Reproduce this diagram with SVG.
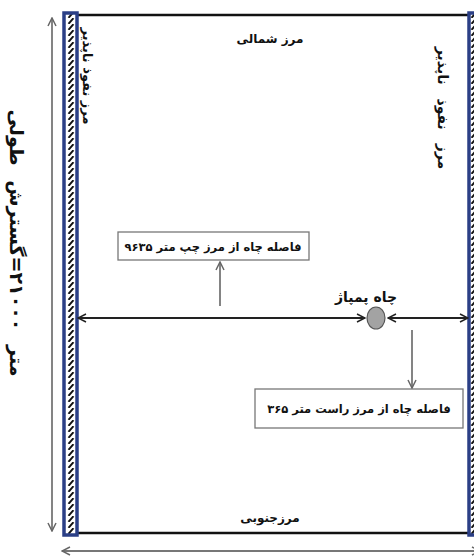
<svg xmlns="http://www.w3.org/2000/svg" width="474" height="559" viewBox="0 0 474 559">
<style>
.ar{font-family:"DejaVu Sans",sans-serif;font-weight:bold;fill:#111;direction:rtl}
.box{fill:#fff;stroke:#777;stroke-width:1.3}
.dim{stroke:#777;stroke-width:1.8;fill:none}
.blk{stroke:#222;stroke-width:2;fill:none}
.bar{stroke:#2b3f86;stroke-width:3.5}
</style>
<defs>
<pattern id="hatchL" x="64" y="0" width="14" height="6" patternUnits="userSpaceOnUse">
<rect width="14" height="6" fill="#fff"/>
<path d="M4.5 5.8 L9.5 0.2" stroke="#111" stroke-width="2"/>
</pattern>
<pattern id="hatchR" x="469" y="0" width="14" height="6" patternUnits="userSpaceOnUse">
<rect width="14" height="6" fill="#fff"/>
<path d="M2.5 5.8 L7.5 0.2" stroke="#111" stroke-width="2"/>
</pattern>
<marker id="ah" viewBox="0 0 10 10" refX="9" refY="5" markerWidth="10" markerHeight="10" orient="auto-start-reverse" markerUnits="userSpaceOnUse">
<path d="M1 1 L9 5 L1 9" fill="none" stroke="#666" stroke-width="1.5"/>
</marker>
<marker id="ahk" viewBox="0 0 10 10" refX="9" refY="5" markerWidth="10" markerHeight="10" orient="auto-start-reverse" markerUnits="userSpaceOnUse">
<path d="M1 1 L9 5 L1 9" fill="none" stroke="#222" stroke-width="1.5"/>
</marker>
</defs>
<rect width="474" height="559" fill="#fff"/>

<g id="boundary">
<line x1="76" y1="15" x2="468" y2="15" stroke="#111" stroke-width="2.5"/>
<line x1="76" y1="533" x2="468" y2="533" stroke="#111" stroke-width="2.5"/>
</g>
<g id="left-wall">
<rect class="bar" x="64" y="13" width="13" height="522" fill="url(#hatchL)"/>
<text class="ar" font-size="13" text-anchor="middle" transform="translate(83,76) rotate(90)">مرز نفوذ ناپذیر</text>
</g>
<g id="right-wall">
<rect class="bar" x="469" y="13" width="13" height="522" fill="url(#hatchR)"/>
<text class="ar" font-size="14" word-spacing="9" text-anchor="middle" transform="translate(438,108) rotate(90)">مرز نفوذ ناپذیر</text>
</g>
<g id="north">
<text class="ar" font-size="12" x="270" y="43" text-anchor="middle">مرز شمالی</text>
</g>
<g id="south">
<text class="ar" font-size="12" x="270" y="522" text-anchor="middle">مرزجنوبی</text>
</g>
<g id="length-label">
<text class="ar" font-size="19" word-spacing="8" text-anchor="middle" transform="translate(10,243) rotate(90)">متر ۲۱۰۰۰=گسترش طولی</text>
</g>
<g id="well">
<ellipse cx="376" cy="318" rx="9" ry="11" fill="#a3a3a3" stroke="#555" stroke-width="1.2"/>
<text class="ar" font-size="14" x="366" y="302" text-anchor="middle">چاه پمپاژ</text>
</g>
<g id="box-left">
<rect class="box" x="118" y="232" width="191" height="28"/>
<text class="ar" font-size="11.5" x="213" y="251" text-anchor="middle">فاصله چاه از مرز چپ متر ۹۶۳۵</text>
</g>
<g id="box-right">
<rect class="box" x="255" y="389" width="208" height="39"/>
<text class="ar" font-size="11.5" x="359" y="413" text-anchor="middle">فاصله چاه از مرز راست متر ۳۶۵</text>
</g>

<g id="connectors">
<line class="dim" x1="52" y1="18" x2="52" y2="531" marker-start="url(#ah)" marker-end="url(#ah)"/>
<line class="dim" x1="62" y1="551" x2="480" y2="551" marker-start="url(#ah)" marker-end="url(#ah)"/>
<line class="blk" x1="78" y1="318" x2="365" y2="318" marker-start="url(#ahk)" marker-end="url(#ahk)"/>
<line class="blk" x1="388" y1="318" x2="468" y2="318" marker-start="url(#ahk)" marker-end="url(#ahk)"/>
<line class="dim" x1="220" y1="306" x2="220" y2="262" marker-end="url(#ah)"/>
<line class="dim" x1="412" y1="330" x2="412" y2="388" marker-end="url(#ah)"/>
</g>
</svg>
